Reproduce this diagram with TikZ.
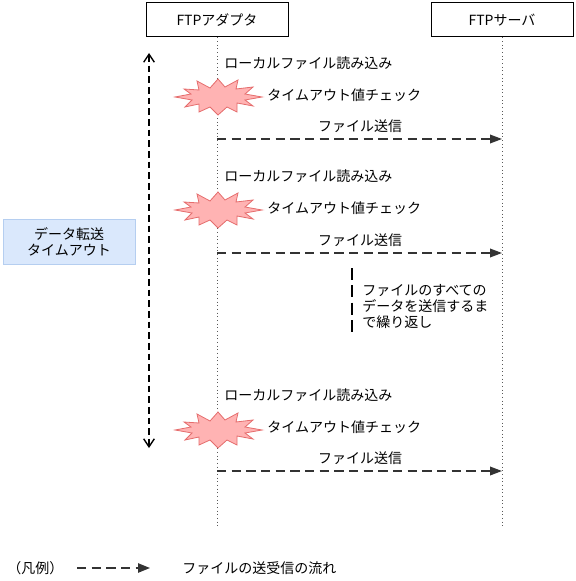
\documentclass[tikz,border=0pt]{standalone}
\usepackage{fontspec}
\setmainfont{Noto Sans CJK JP}
\usetikzlibrary{arrows.meta}
\definecolor{burstfill}{HTML}{FFB3B3}
\definecolor{burstline}{HTML}{E56D6D}
\definecolor{notefill}{HTML}{DAE8FC}
\definecolor{noteline}{HTML}{B5CEF0}
\tikzset{
  lifebox/.style={draw, line width=0.75pt, minimum width=106.5pt, minimum height=25.5pt, inner sep=0pt},
  lifeline/.style={line width=0.75pt, dotted, gray!70!black},
  msg/.style={line width=1.1pt, dash pattern=on 7pt off 4pt, black!80, -{Triangle[length=9pt,width=6.5pt]}},
  burst/.pic={
    \draw[fill=burstfill, draw=burstline, line width=0.6pt]
      (0,-18) -- (7,-10) -- (20,-17) -- (18,-8) -- (35,-10) -- (27,-3) -- (44,0)
      -- (27,3) -- (35,9) -- (19,6) -- (19,15) -- (9,10) -- (0,18) -- (-8,10)
      -- (-19,15) -- (-19,7) -- (-33,10) -- (-26,3) -- (-43,0) -- (-27,-3)
      -- (-34,-8) -- (-19,-7) -- (-21,-16) -- (-8,-9) -- cycle;
  }
}
\begin{document}
\begin{tikzpicture}[x=0.75pt, y=-0.75pt, font=\fontsize{10.5}{12}\selectfont]
\useasboundingbox (0,0) rectangle (575,581);

\node[lifebox] (adapter) at (217,20) {FTPアダプタ};
\node[lifebox] (server) at (502,20) {FTPサーバ};
\coordinate (adapterend) at (217,527);
\coordinate (serverend) at (502,527);
\draw[lifeline] (adapter.south) -- (adapterend);
\draw[lifeline] (server.south) -- (serverend);

\coordinate (top) at (149,53);
\coordinate (bottom) at (149,448);
\draw[line width=1pt, dash pattern=on 5pt off 3pt, {Straight Barb[length=6pt,width=8pt]}-{Straight Barb[length=6pt,width=8pt]}] (top) -- (bottom);
\node[draw=noteline, fill=notefill, line width=0.75pt, minimum width=99pt, minimum height=34pt, align=center, inner sep=0pt] (note) at (69,242) {データ転送\\タイムアウト};

\node[anchor=west, inner sep=0pt] (read1) at (224,63) {ローカルファイル読み込み};
\pic at (218,97) {burst};
\node[anchor=west, inner sep=0pt] (check1) at (267,95) {タイムアウト値チェック};
\node[inner sep=0pt] (send1) at (360,126) {ファイル送信};
\coordinate (from1) at (217,139);
\coordinate (to1) at (502,139);
\draw[msg] (from1) -- (to1);

\node[anchor=west, inner sep=0pt] (read2) at (224,176) {ローカルファイル読み込み};
\pic at (218,210) {burst};
\node[anchor=west, inner sep=0pt] (check2) at (267,208) {タイムアウト値チェック};
\node[inner sep=0pt] (send2) at (360,240) {ファイル送信};
\coordinate (from2) at (217,253);
\coordinate (to2) at (502,253);
\draw[msg] (from2) -- (to2);

\coordinate (loopa) at (352,268);
\coordinate (loopb) at (352,333);
\draw[line width=0.9pt, dash pattern=on 9pt off 4pt] (loopa) -- (loopb);
\node[anchor=west, align=left, inner sep=0pt, font=\fontsize{10.5}{12}\selectfont] (loop) at (362,306) {ファイルのすべての\\データを送信するま\\で繰り返し};

\node[anchor=west, inner sep=0pt] (read3) at (224,395) {ローカルファイル読み込み};
\pic at (218,430) {burst};
\node[anchor=west, inner sep=0pt] (check3) at (267,427) {タイムアウト値チェック};
\node[inner sep=0pt] (send3) at (360,458) {ファイル送信};
\coordinate (from3) at (217,471);
\coordinate (to3) at (502,471);
\draw[msg] (from3) -- (to3);

\node[anchor=west, inner sep=0pt] (legend) at (7,568) {（凡例）};
\coordinate (legfrom) at (77,568);
\coordinate (legto) at (150,568);
\draw[line width=1.1pt, dash pattern=on 7pt off 4pt, black!80, -{Triangle[length=9pt,width=7pt]}] (legfrom) -- (legto);
\node[anchor=west, inner sep=0pt] (legtext) at (182,568) {ファイルの送受信の流れ};
\end{tikzpicture}
\end{document}
